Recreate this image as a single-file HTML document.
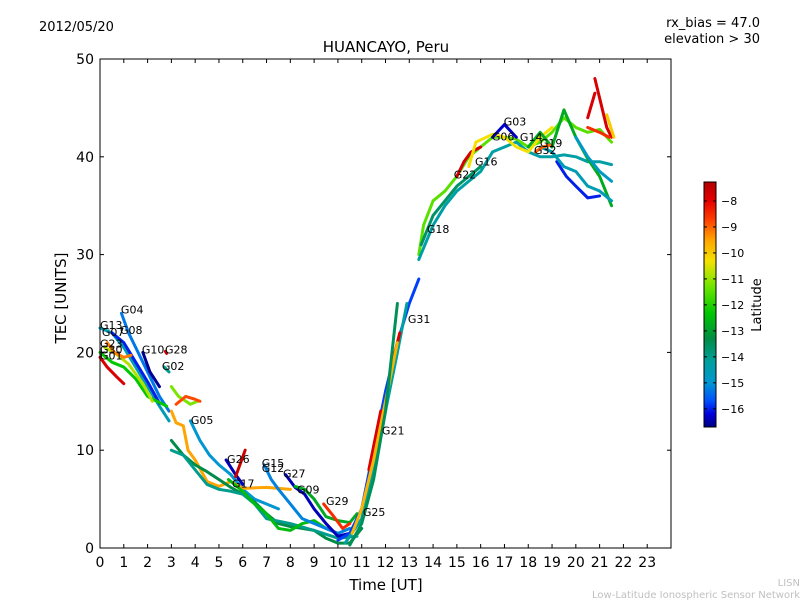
<!DOCTYPE html>
<html><head><meta charset="utf-8"><style>
body{margin:0;background:#fff;}
svg text{font-family:"DejaVu Sans","Liberation Sans",sans-serif;}
</style></head><body>
<svg id="chart" width="800" height="600" viewBox="0 0 800 600" xmlns="http://www.w3.org/2000/svg">
<rect x="0" y="0" width="800" height="600" fill="#fff"/>
<text x="39" y="31" font-size="13">2012/05/20</text>
<text x="760" y="27" font-size="13" text-anchor="end">rx_bias = 47.0</text>
<text x="760" y="43" font-size="13" text-anchor="end">elevation &gt; 30</text>
<text x="386" y="52" font-size="15" text-anchor="middle">HUANCAYO, Peru</text>
<text x="386" y="590" font-size="15" text-anchor="middle">Time [UT]</text>
<text x="66" y="298" font-size="15" text-anchor="middle" transform="rotate(-90 66 298)">TEC [UNITS]</text>
<text x="800" y="586" font-size="10" fill="#c0c0c0" text-anchor="end">LISN</text>
<text x="800" y="598" font-size="10" fill="#c0c0c0" text-anchor="end">Low-Latitude Ionospheric Sensor Network</text>
<g id="tracks"></g>
<g id="labels"></g>
<g id="axes"></g>
<defs><linearGradient id="cmap" x1="0" y1="1" x2="0" y2="0"></linearGradient></defs>
<g id="colorbar"></g>
</svg>
<script>
const xTicks=[0,1,2,3,4,5,6,7,8,9,10,11,12,13,14,15,16,17,18,19,20,21,22,23];
const yTicks=[0,10,20,30,40,50];
const cbTicks=[-8,-9,-10,-11,-12,-13,-14,-15,-16];
const latMin=-16.7, latMax=-7.27;
const trackTimes=[
[0,0.3,0.7,1.0],
[0,0.5,1,1.5,2,2.5,2.9],
[0.9,1.2,1.6,2,2.5,2.9],
[0.5,1,1.5,2,2.5],
[1.8,2.1,2.5],
[0,0.5,1,1.5,2,2.4,2.8],
[0.2,0.7,1.2,1.8,2.2],
[0.3,0.6,1,1.3],
[2.7,2.9],
[2.75,2.8],
[3,3.3,3.8,4.1],
[3.2,3.6,4,4.2],
[3.8,4.2,4.6,5,5.5,6,6.5,7,7.5],
[3,3.2,3.5,3.7,4,4.5,5,5.5,6,7,8],
[3,3.5,4,4.5,5,5.5,6,6.5,7,7.5,8,8.5,9,9.5,10,10.5,11],
[3,3.5,4,4.5,5,5.5,6,6.5,7,8,9,10,10.8],
[5.3,5.7,6],
[5.7,6.1],
[5.4,6,6.5,7,7.5,8,8.5,9,9.5,10],
[6.9,7.2,7.5,8,8.5,9,9.5,10,10.5],
[7.8,8.2,8.6,9,9.5,10,10.5],
[8.2,8.6,9,9.5,10,10.5,10.8],
[9.4,9.8,10.2,10.5],
[10,10.5,11,11.5,12,12.5,13,13.4],
[10.3,11,11.5,12,12.5,12.9],
[11.3,11.8],
[12.2,12.6],
[10.6,11,11.5,12,12.5],
[10.5,11,11.5,12,12.5],
[13.4,13.6,14,14.5,15,15.5,16,16.5,17,17.5,18,18.5,19,19.5,20,20.5,21,21.5],
[13.4,14,14.5,15,15.5,16,16.5,17,17.5,18,18.5,19,19.5,20,20.5,21,21.5],
[15,15.3,15.6,16],
[15.5,15.8,16.5,17,17.5,18,18.5,19],
[16.5,17,17.5],
[18,18.5,19,19.5,20,20.5,21,21.5],
[20.5,20.8],
[20.8,21,21.3,21.5],
[20.5,21,21.4],
[21.3,21.6],
[19.2,19.6,20,20.5,21],
[18.5,19,19.5,20,20.5,21,21.5],
[20,20.5,21,21.5],
[18.3,18.6,18.9],
[13.5,14,14.5,15,15.5,16]
];
const trackTec=[
[19.5,18.5,17.5,16.8],
[22.5,22,20.5,18.5,16.5,14.5,13],
[24,22,20,18,15.5,14],
[22,21,19,17,14.8],
[20,18,16.5],
[20,19,18.5,17.3,15.5,15,14.5],
[20.5,19.8,18.8,16.8,15],
[21,20,19.5,19.7],
[18.5,18],
[20.1,19.9],
[16.5,15.5,14.7,15],
[14.7,15.5,15.2,15],
[13,11,9.5,8.5,7.5,6,5,4.5,4],
[14,12.8,12.5,10,9,6.8,6.3,6.8,6.1,6.2,6],
[11,9.5,8.5,7.8,7,6.2,5.5,4.7,3.5,2.5,2.2,2,1.8,1,0.5,0.5,2],
[10,9.5,8,6.5,6,5.8,5.5,4.5,3,2.5,1.8,1,1.2],
[9,7.5,6.5],
[7.3,10],
[7,5.8,4.5,3.5,2,1.8,2.5,2.8,2,1.5],
[8.5,7,6,4.5,3,2.5,2,1.5,2],
[7.5,6.2,5.5,4,2.5,1.2,1.5],
[6.3,6,5,3.2,2.8,2.6,3.5],
[4.5,3.3,2,2.5],
[0.8,1.5,4,10,16,21,25,27.5],
[0.5,3,8,14,20,25],
[8,14],
[18,22],
[1.5,4,9,15,21],
[0.3,2.5,7,14,25],
[30,33,35.5,36.5,38,40,41,42,42,41.8,41,41.5,42.5,44,43,42.5,42.8,41.5],
[29.5,33,35,36.5,37.5,38.5,40.5,41,41.5,40.5,40,40,40.2,40,39.5,39.5,39.2],
[38,39.5,40.5,41],
[39,41.5,42.3,42,41,40.5,42,43],
[42,43.3,42],
[41,42.5,41,44.8,42,39.8,38,35],
[44,46.5],
[48,46,43,42],
[43,42.5,42],
[44.3,42],
[39.5,38,37,35.8,36],
[41,40.5,39,38.5,37,36.5,35.5],
[42,40,38.5,37.5],
[40.5,41,41.2],
[31,34,35.5,37,38,39]
];
const trackLat=[-7.8,-14.5,-15.3,-16,-16.6,-12.3,-10.8,-9.2,-14,-7.6,-11.2,-8.8,-15,-9.5,-13.3,-14,-16.4,-7.6,-12.5,-15.2,-16.4,-12.8,-8.5,-15.8,-14.2,-7.8,-7.8,-9.7,-13.5,-11.5,-14.3,-7.7,-10.3,-16.3,-12.8,-7.8,-7.8,-8.5,-10,-16,-14.5,-14.8,-9,-13.6];
const labelNames=["G04","G13","G07","G08","G10","G28","G23","G30","G01","G02","G05","G26","G17","G15","G12","G27","G09","G29","G25","G21","G31","G18","G22","G16","G06","G03","G14","G19","G32"];
const labelT=[0.88,0,0.08,0.84,1.76,2.73,0,0,0,2.6,3.82,5.34,5.55,6.8,6.8,7.69,8.28,9.5,11.05,11.85,12.94,13.74,14.87,15.76,16.47,16.97,17.65,18.49,18.24];
const labelV=[24.4,22.8,22.1,22.3,20.3,20.3,20.9,20.3,19.7,18.6,13.1,9.1,6.6,8.7,8.2,7.6,6.0,4.8,3.7,12.0,23.4,32.6,38.2,39.5,42.1,43.6,42.0,41.4,40.7];

const cmapStops=[[0,[0,0,130]],[0.053,[0,0,220]],[0.106,[0,80,255]],[0.18,[0,150,210]],[0.265,[0,160,160]],[0.36,[0,140,70]],[0.466,[0,200,0]],[0.572,[110,230,0]],[0.678,[245,225,0]],[0.763,[255,165,0]],[0.848,[255,60,0]],[0.923,[230,0,0]],[1,[180,0,0]]];
const X0=100,X1=671,Y0=548,Y1=59;
const xs=t=>X0+t*(X1-X0)/24;
const ys=v=>Y0-v*(Y0-Y1)/50;
function cmap(v){
  v=Math.max(0,Math.min(1,v));
  for(let i=1;i<cmapStops.length;i++){
    const [p1,c1]=cmapStops[i-1],[p2,c2]=cmapStops[i];
    if(v<=p2){const f=(v-p1)/(p2-p1);return `rgb(${c1.map((c,k)=>Math.round(c+(c2[k]-c)*f)).join(',')})`;}
  }
  return 'rgb(180,0,0)';
}
const NS="http://www.w3.org/2000/svg";
const grad=document.getElementById('cmap');
cmapStops.forEach(s=>{const st=document.createElementNS(NS,'stop');st.setAttribute('offset',s[0]);st.setAttribute('stop-color',`rgb(${s[1].join(',')})`);grad.appendChild(st);});
const tg=document.getElementById('tracks');
trackTimes.forEach((ts,i)=>{
  const p=document.createElementNS(NS,'polyline');
  p.setAttribute('points',ts.map((t,j)=>xs(t)+','+ys(trackTec[i][j])).join(' '));
  p.setAttribute('fill','none');
  p.setAttribute('stroke',cmap((trackLat[i]-latMin)/(latMax-latMin)));
  p.setAttribute('stroke-width','3');
  p.setAttribute('stroke-linejoin','round');
  p.setAttribute('stroke-linecap','round');
  
  
  tg.appendChild(p);
});
const lg=document.getElementById('labels');
labelNames.forEach((n,i)=>{
  const t=document.createElementNS(NS,'text');
  t.setAttribute('x',xs(labelT[i]));
  t.setAttribute('y',ys(labelV[i])+4);
  t.setAttribute('font-size','11');
  t.textContent=n;
  
  
  lg.appendChild(t);
});
const ax=document.getElementById('axes');
let h=`<rect x="${X0}" y="${Y1}" width="${X1-X0}" height="${Y0-Y1}" fill="none" stroke="#000" stroke-width="1"/>`;
xTicks.forEach(t=>{const x=xs(t);h+=`<line x1="${x}" y1="${Y0}" x2="${x}" y2="${Y0-4}" stroke="#000"/><line x1="${x}" y1="${Y1}" x2="${x}" y2="${Y1+4}" stroke="#000"/><text x="${x}" y="${Y0+19}" font-size="14" text-anchor="middle">${t}</text>`;});
yTicks.forEach(v=>{const y=ys(v);h+=`<line x1="${X0}" y1="${y}" x2="${X0+4}" y2="${y}" stroke="#000"/><line x1="${X1}" y1="${y}" x2="${X1-4}" y2="${y}" stroke="#000"/><text x="${X0-6}" y="${y+5}" font-size="14" text-anchor="end">${v}</text>`;});
ax.innerHTML=h;
const cb=document.getElementById('colorbar');
const CX=704,CW=12,CT=182,CB=427;
const cy=l=>CB-(l-latMin)/(latMax-latMin)*(CB-CT);
let c=`<rect x="${CX}" y="${CT}" width="${CW}" height="${CB-CT}" fill="url(#cmap)" stroke="#000"/>`;
cbTicks.forEach(l=>{const y=cy(l);c+=`<line x1="${CX}" y1="${y}" x2="${CX+3}" y2="${y}" stroke="#000"/><line x1="${CX+CW}" y1="${y}" x2="${CX+CW-3}" y2="${y}" stroke="#000"/><text x="${CX+CW+5}" y="${y+4}" font-size="11">\u2212${-l}</text>`;});
c+=`<text x="761" y="305" font-size="13" text-anchor="middle" transform="rotate(-90 761 305)">Latitude</text>`;
cb.innerHTML=c;
</script>
</body></html>
